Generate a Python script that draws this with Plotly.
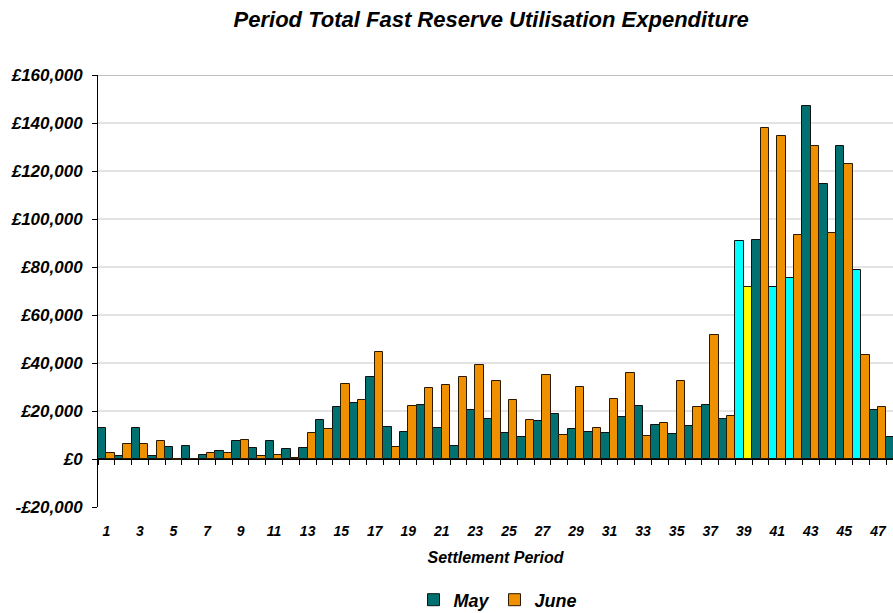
import plotly.graph_objects as go

periods = list(range(1, 49))
may = [13000, 1100, 13000, 1400, 5000, 5400, 1500, 3200, 7350, 4600,
       7350, 4200, 4600, 16100, 21500, 23300, 34000, 13500, 11250, 22500,
       13000, 5400, 20300, 16700, 10800, 9000, 15700, 18900, 12600, 11250,
       10800, 17500, 21900, 14300, 10300, 13900, 22400, 16700, 91000, 91400,
       71500, 75300, 147000, 114600, 130300, 78900, 20300, 9000]
june = [2600, 6250, 6250, 7350, -400, 0, 2400, 2600, 7900, 1100,
        1800, 500, 10700, 12600, 31100, 24600, 44400, 4900, 21900, 29600,
        31000, 34000, 39000, 32400, 24600, 16100, 35100, 9900, 30000, 13000,
        25100, 35700, 9400, 14900, 32400, 21500, 51500, 17900, 71500, 137900,
        134700, 93200, 130300, 94000, 123000, 43200, 21500, None]
may_highlight = [39, 41, 42, 46]
june_highlight = [39]

x_tick_vals = list(range(1, 48, 2))
x_tick_text = [str(v) for v in x_tick_vals]
y_tick_vals = [-20000, 0, 20000, 40000, 60000, 80000, 100000, 120000, 140000, 160000]
y_tick_text = ['-£20,000', '£0', '£20,000', '£40,000', '£60,000', '£80,000',
               '£100,000', '£120,000', '£140,000', '£160,000']

TEAL = '#007070'
ORANGE = '#EE9000'
CYAN = '#00FFFF'
YELLOW = '#FFFF00'

may_colors = [CYAN if p in may_highlight else TEAL for p in periods]
june_colors = [YELLOW if p in june_highlight else ORANGE for p in periods]

FONT = dict(family='Liberation Sans, Arial, sans-serif', size=14, color='black',
            weight='bold', style='italic')

fig = go.Figure()
fig.add_trace(go.Bar(x=periods, y=may, name='May',
                     marker=dict(color=may_colors, line=dict(color='#101010', width=1))))
fig.add_trace(go.Bar(x=periods, y=june, name='June',
                     marker=dict(color=june_colors, line=dict(color='#2a1a00', width=1))))
# helper trace so that the tick axis sitting on the zero line is drawn
fig.add_trace(go.Scatter(x=[periods[0]], y=[0], xaxis='x2', mode='markers',
                         marker=dict(opacity=0), showlegend=False, hoverinfo='skip'))

y_min, y_max = y_tick_vals[0], y_tick_vals[-1]
zero_pos = (0 - y_min) / (y_max - y_min)
x_range = [0.5, 47.9]

shapes = []
for v in y_tick_vals:
    if 0 < v < y_max:
        shapes.append(dict(type='line', xref='paper', x0=0, x1=1, yref='y', y0=v, y1=v,
                           line=dict(color='#C8C8C8', width=1), layer='below'))
shapes.append(dict(type='line', xref='paper', x0=0, x1=1, yref='y', y0=y_max, y1=y_max,
                   line=dict(color='#868686', width=1), layer='below'))

fig.update_layout(
    width=893, height=613,
    margin=dict(l=98, r=0, t=75, b=106),
    paper_bgcolor='white', plot_bgcolor='white',
    font=FONT,
    barmode='group', bargap=0, bargroupgap=0,
    title=dict(text='Period Total Fast Reserve Utilisation Expenditure',
               x=0.55, xanchor='center', y=1 - 19 / 613, yanchor='middle',
               font=dict(size=22), automargin=False),
    xaxis=dict(range=x_range, tickvals=x_tick_vals, ticktext=x_tick_text,
               ticks='', showgrid=False, showline=False, zeroline=False,
               ticklabelstandoff=14, automargin=False, tickfont=dict(size=14),
               title=dict(text='Settlement Period', standoff=13, font=dict(size=16))),
    xaxis2=dict(overlaying='x', anchor='free', position=zero_pos, range=x_range,
                tickvals=[p + 0.5 for p in [0] + periods], ticks='outside', ticklen=5,
                tickcolor='black', tickwidth=1, showticklabels=False, automargin=False,
                showgrid=False, showline=False, zeroline=False),
    yaxis=dict(range=[y_min, y_max], tickvals=y_tick_vals, ticktext=y_tick_text,
               showgrid=False, zeroline=True, zerolinecolor='black', zerolinewidth=1,
               showline=True, linecolor='black', linewidth=1, automargin=False,
               tickfont=dict(size=17),
               ticks='outside', ticklen=5, tickcolor='black', ticklabelstandoff=6),
    legend=dict(orientation='h', xref='container', yref='container',
                x=498 / 893, xanchor='center', y=1 - 600 / 613, yanchor='middle',
                font=dict(size=18), itemwidth=30, traceorder='normal'),
    shapes=shapes,
    showlegend=True,
)

fig.write_html('out.html', config={'displayModeBar': False},
               post_script="document.body.style.margin='0';document.body.style.overflow='hidden';")
